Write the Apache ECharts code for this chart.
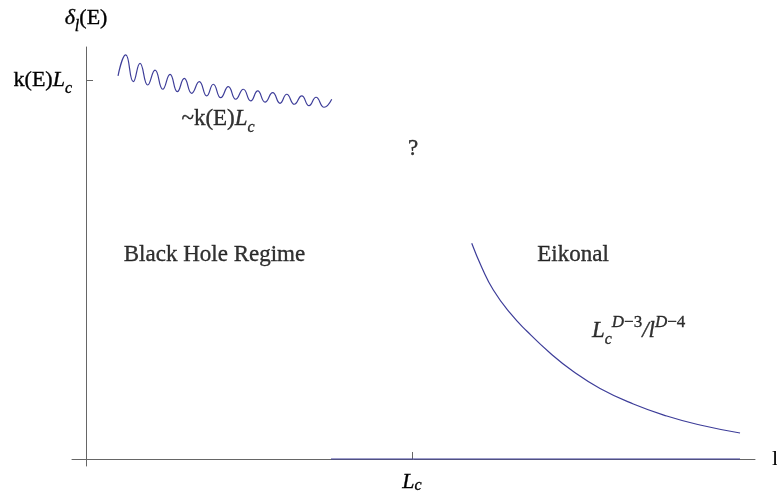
<!DOCTYPE html>
<html><head><meta charset="utf-8">
<script src="https://cdn.jsdelivr.net/npm/echarts@6/dist/echarts.min.js"></script>
<style>html,body{margin:0;padding:0;background:#fff}#c{width:777px;height:495px}</style>
</head><body><div id="c"></div>
<script>
// Units: x in L_c/10, y in (k(E)L_c)/10
const tickX = [10];               // L_c
const tickY = [10];               // k(E) L_c
const xLabels = ['{i|L}{sub|c}'];
const yLabels = ['{n|k(E)}{i|L}{sub|c}'];

// oscillating black-hole-regime curve
const waveX = [0.982,1.218,1.451,1.656,1.893,2.117,2.353,2.577,2.801,3.015,3.242,3.475,3.702,3.905,4.132,4.365,4.592,4.825,5.052,5.267,5.491,5.727,5.951,6.157,6.390,6.617,6.840,7.055,7.301,7.537];
const waveY = [10.11,10.66,9.955,10.44,9.868,10.26,9.755,10.15,9.691,10.04,9.649,9.955,9.578,9.887,9.533,9.823,9.491,9.755,9.446,9.710,9.417,9.665,9.385,9.623,9.359,9.578,9.322,9.544,9.280,9.491];

// eikonal curve
const curveX = [11.831,12.147,12.494,13.006,13.518,14.233,14.948,15.767,16.788,17.813,18.834,20.061];
const curveY = [5.691,5.040,4.459,3.852,3.377,2.797,2.309,1.860,1.451,1.135,0.897,0.686];

// zero segment along the axis
const baseX = [7.515,20.06];
const baseY = [0,0];

// annotations
const noteX = [4.05,10.03,3.94,14.94,16.95];
const noteY = [8.97,8.18,5.38,5.38,3.38];
const noteText = ['{n|~k(E)}{i|L}{sub|c}','{n|?}','{n|Black Hole Regime}','{n|Eikonal}','{i|L}{sub|c}{sup|D}{supn|\u22123}{i|/l}{sup|D}{supn|\u22124}'];

const FF = '"Liberation Serif","DejaVu Serif",serif';
function mkRich(main, mainLH, subSize, subLH, supSize, supLH) {
  const b = {color: '#000', fontFamily: FF, textBorderColor: '#000', textBorderWidth: 0.35};
  return {
    n:   Object.assign({}, b, {fontSize: main, lineHeight: mainLH}),
    i:   Object.assign({}, b, {fontSize: main, lineHeight: mainLH, fontStyle: 'italic'}),
    sub: Object.assign({}, b, {fontSize: subSize, lineHeight: subLH, fontStyle: 'italic', verticalAlign: 'bottom'}),
    sup: Object.assign({}, b, {fontSize: supSize, lineHeight: supLH, fontStyle: 'italic', verticalAlign: 'top'}),
    supn:Object.assign({}, b, {fontSize: supSize, lineHeight: supLH, verticalAlign: 'top'})
  };
}
const richNote = mkRich(23, 34, 16, 27, 17, 16);
const richName = mkRich(22, 34, 16, 24, 15, 14);
const richY = mkRich(22, 34, 16, 28, 15, 14);
const richX = mkRich(22, 24, 16, 16, 15, 14);

const zip = (a, b) => a.map((v, k) => [v, b[k]]);
const LINE = '#3d3d99';
const AX = '#666';

const chart = echarts.init(document.getElementById('c'), null, {renderer: 'canvas'});
chart.setOption({
  animation: false,
  backgroundColor: '#fff',
  grid: {left: 72, right: 22, top: 47, bottom: 29, containLabel: false, outerBoundsMode: 'none'},
  xAxis: {
    type: 'value', min: -0.43, max: 20.52,
    axisLine: {onZero: true, lineStyle: {color: AX, width: 1}},
    axisTick: {show: true, inside: true, length: 7, customValues: tickX, lineStyle: {color: AX}},
    axisLabel: {customValues: tickX, margin: 4, formatter: v => xLabels[tickX.indexOf(v)] || '', rich: richX},
    splitLine: {show: false},
    name: 'l', nameLocation: 'end', nameGap: 17,
    nameTextStyle: {fontFamily: FF, fontSize: 22, color: '#000', verticalAlign: 'middle'}
  },
  yAxis: {
    type: 'value', min: -0.185, max: 10.87,
    axisLine: {onZero: true, lineStyle: {color: AX, width: 1}},
    axisTick: {show: true, inside: true, length: 7, customValues: tickY, lineStyle: {color: AX}},
    axisLabel: {customValues: tickY, margin: 0, formatter: v => yLabels[tickY.indexOf(v)] || '', rich: richY},
    splitLine: {show: false},
    name: '{i|\u03b4}{sub|l}{n|(E)}', nameLocation: 'end', nameGap: 12,
    nameTextStyle: {rich: richName}
  },
  series: [
    {type: 'line', data: zip(waveX, waveY), smooth: 0.5, showSymbol: false, lineStyle: {color: LINE, width: 1.2}, silent: true},
    {type: 'line', data: zip(curveX, curveY), smooth: 0.5, showSymbol: false, lineStyle: {color: LINE, width: 1.2}, silent: true},
    {type: 'line', data: zip(baseX, baseY), showSymbol: false, lineStyle: {color: LINE, width: 1.2}, silent: true},
    {type: 'scatter', symbolSize: 1, itemStyle: {color: 'rgba(0,0,0,0)'}, silent: true,
     data: noteX.map((x, k) => ({value: [x, noteY[k]], text: noteText[k]})),
     label: {show: true, position: 'inside', align: 'center', verticalAlign: 'middle', formatter: p => p.data.text, rich: richNote}}
  ]
});
</script>
</body></html>
